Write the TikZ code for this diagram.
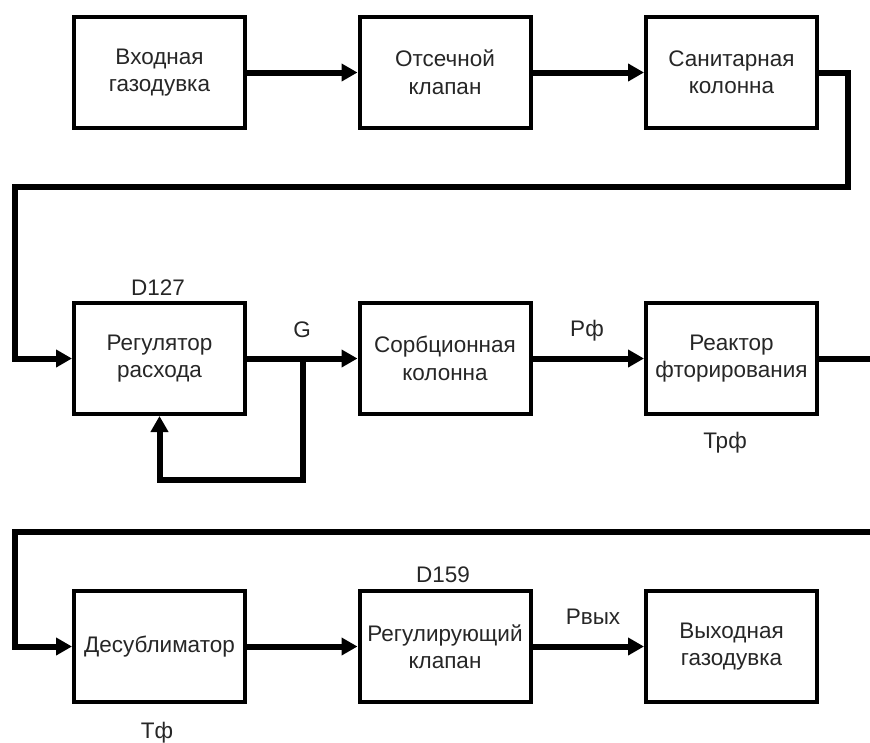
\documentclass[tikz,border=0pt]{standalone}
\usepackage{fontspec}
\setmainfont{Liberation Sans}
\usetikzlibrary{arrows.meta}
\newcommand{\fsz}{\fontsize{22.5}{27.5}\selectfont}
\begin{document}
\begin{tikzpicture}[x=1pt,y=-1pt,
  box/.style={draw, line width=4pt, minimum width=171pt, minimum height=111pt,
    inner sep=0pt, align=center, font=\fsz, text=black!85},
  lbl/.style={font=\fsz, text=black!85, inner sep=0pt},
  conn/.style={line width=6pt},
  arr/.style={line width=6pt, -{Triangle[length=16pt,width=17pt]}}]
\useasboundingbox (0,0) rectangle (870,742);
% row 1
\node[box] (b1) at (159.5,72.5) {Входная\\газодувка};
\node[box] (b2) at (445,72.5) {Отсечной\\клапан};
\node[box] (b3) at (731.5,72.5) {Санитарная\\колонна};
% row 2
\node[box] (b4) at (159.5,358.5) {Регулятор\\расхода};
\node[box] (b5) at (445,358.5) {Сорбционная\\колонна};
\node[box] (b6) at (731.5,358.5) {Реактор\\фторирования};
% row 3
\node[box] (b7) at (159.5,646.5) {Десублиматор};
\node[box] (b8) at (445,646.5) {Регулирующий\\клапан};
\node[box] (b9) at (731.5,646.5) {Выходная\\газодувка};
% labels
\node[lbl] (lD127) at (158,288) {D127};
\node[lbl] (lG) at (302,330) {G};
\node[lbl] (lPf) at (587,331) {Рф};
\node[lbl] (lTrf) at (725,443) {Трф};
\node[lbl] (lD159) at (443,575) {D159};
\node[lbl] (lPv) at (593,617) {Рвых};
\node[lbl] (lTf) at (157,733) {Тф};
% connectors
\draw[arr] (b1) -- (b2);
\draw[arr] (b2) -- (b3);
\coordinate (r1) at (848,187);
\draw[arr] (b3.east) -- (848,72.5) -- (r1) -- (15,187) |- (b4.west);
\draw[arr] (b4) -- (b5);
\coordinate (g) at (303,358.5);
\draw[arr] (g) -- ++(0,121.5) -| (b4.south);
\draw[arr] (b5) -- (b6);
\coordinate (c6) at (873,358.5);
\draw[conn] (b6.east) -- (c6);
\coordinate (r3) at (873,532);
\draw[arr] (r3) -- (15,532) |- (b7.west);
\draw[arr] (b7) -- (b8);
\draw[arr] (b8) -- (b9);
\end{tikzpicture}
\end{document}
